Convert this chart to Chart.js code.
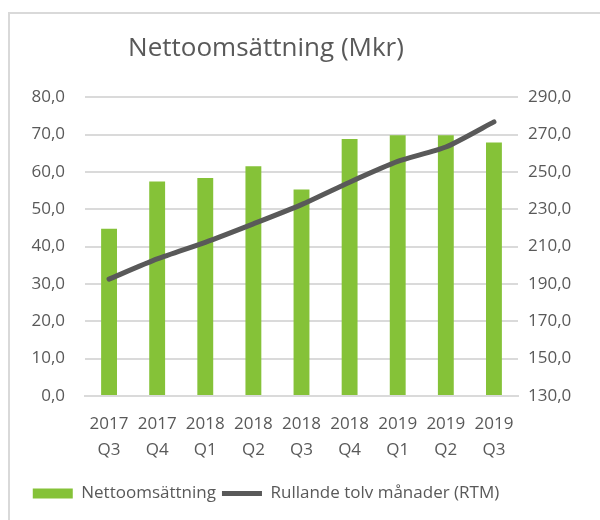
<!DOCTYPE html>
<html>
<head>
<meta charset="utf-8">
<script src="https://cdn.jsdelivr.net/npm/chart.js@4/dist/chart.umd.min.js"></script>
<style>
  body { margin: 0; background: #fff; }
  #wrap { position: relative; width: 600px; height: 520px; overflow: hidden; }
  #frame { position: absolute; left: 8px; top: 12px; width: 700px; height: 600px;
           border-left: 2px solid #d9d9d9; border-top: 2px solid #d9d9d9; }
  /* diagrammet är bredare än bilden, höger del är beskuren */
  canvas { position: absolute; left: -68px; top: 0; }
</style>
</head>
<body>
<div id="wrap">
  <div id="frame"></div>
  <canvas id="chart" width="668" height="520"></canvas>
</div>
<script>
// Kvartal
const kvartal = [
    ['2017', 'Q3'], ['2017', 'Q4'], ['2018', 'Q1'], ['2018', 'Q2'], ['2018', 'Q3'],
    ['2018', 'Q4'], ['2019', 'Q1'], ['2019', 'Q2'], ['2019', 'Q3']
];
// Nettoomsättning per kvartal (Mkr), vänster axel
const nettoomsattning = [44.8, 57.4, 58.4, 61.5, 55.3, 68.8, 69.8, 69.8, 67.9];
// Rullande tolv månader (Mkr), höger axel
const rtm = [192.6, 203.4, 212.3, 222.2, 232.5, 244.5, 255.6, 263.3, 276.8];

const textColor = '#595959';
const gridColor = '#dadada';
const fontFamily = '"Open Sans", sans-serif';

const fmt = v => v.toFixed(1).replace('.', ',');

const ctx = document.getElementById('chart').getContext('2d');
new Chart(ctx, {
    type: 'bar',
    data: {
        labels: kvartal,
        datasets: [
            {
                type: 'line',
                label: 'Rullande tolv månader (RTM)',
                data: rtm,
                yAxisID: 'y2',
                borderColor: '#595959',
                backgroundColor: '#595959',
                borderWidth: 5,
                borderCapStyle: 'round',
                pointRadius: 0,
                tension: 0.2,
                order: 0
            },
            {
                label: 'Nettoomsättning',
                data: nettoomsattning,
                yAxisID: 'y',
                backgroundColor: '#85c238',
                borderWidth: 0,
                categoryPercentage: 1,
                barPercentage: 0.33,
                order: 1
            }
        ]
    },
    options: {
        responsive: false,
        animation: false,
        layout: { padding: { left: 0, right: 0, top: 0, bottom: 8 } },
        plugins: {
            title: {
                display: true,
                text: 'Nettoomsättning (Mkr)',
                color: textColor,
                font: { family: fontFamily, size: 26, weight: 'normal' },
                padding: { top: 33, bottom: 33 }
            },
            legend: {
                position: 'bottom',
                reverse: true,
                labels: {
                    color: textColor,
                    font: { family: fontFamily, size: 17 },
                    usePointStyle: true,
                    pointStyleWidth: 40,
                    boxHeight: 10,
                    padding: 6,
                    generateLabels: chart => {
                        const items = Chart.defaults.plugins.legend.labels.generateLabels(chart);
                        items.forEach(it => {
                            it.pointStyle = it.datasetIndex === 0 ? 'line' : 'rect';
                        });
                        return items;
                    }
                }
            },
            tooltip: { enabled: false }
        },
        scales: {
            x: {
                grid: { display: false, drawTicks: false },
                border: { display: true, color: gridColor, width: 2 },
                ticks: {
                    color: textColor,
                    font: { family: fontFamily, size: 17, lineHeight: 1.55 },
                    padding: 15,
                    maxRotation: 0,
                    autoSkip: false
                },
                afterFit: s => { s.height = 83; }
            },
            y: {
                position: 'left',
                min: 0,
                max: 80,
                ticks: {
                    stepSize: 10,
                    color: textColor,
                    font: { family: fontFamily, size: 17 },
                    padding: 20,
                    callback: v => fmt(v)
                },
                grid: { color: gridColor, lineWidth: 2, drawTicks: false },
                border: { display: false },
                afterFit: s => { s.width = 153; }
            },
            y2: {
                position: 'right',
                min: 130,
                max: 290,
                ticks: {
                    stepSize: 20,
                    color: textColor,
                    font: { family: fontFamily, size: 17 },
                    padding: 10,
                    callback: v => fmt(v)
                },
                grid: { display: false, drawTicks: false },
                border: { display: false },
                afterFit: s => { s.width = 82; }
            }
        }
    }
});
</script>
</body>
</html>
